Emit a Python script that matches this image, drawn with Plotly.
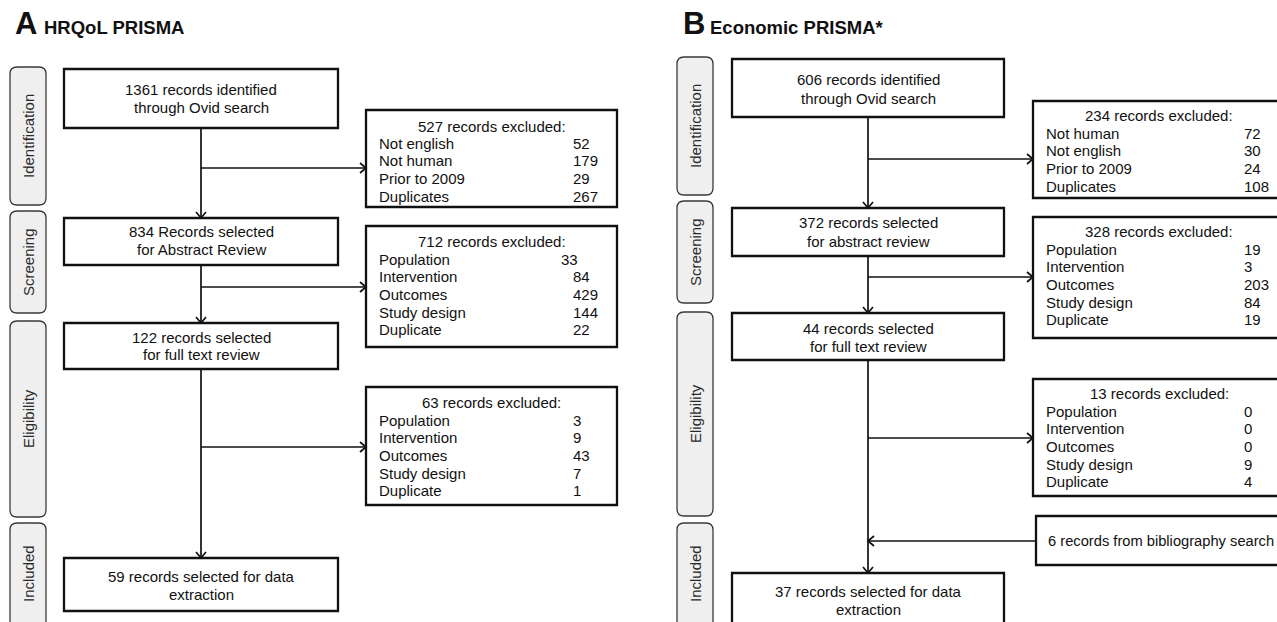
import plotly.graph_objects as go

# ---------------- data ----------------
panel_letters = ["A", "B"]
panel_titles = ["HRQoL PRISMA", "Economic PRISMA*"]
stage_labels = ["Identification", "Screening", "Eligibility", "Included"]

A_main_text = [
    ["1361 records identified", "through Ovid search"],
    ["834 Records selected", "for Abstract Review"],
    ["122 records selected", "for full text review"],
    ["59 records selected for data", "extraction"],
]
A_excl_totals = [527, 712, 63]
A_excl_reasons = [
    ["Not english", "Not human", "Prior to 2009", "Duplicates"],
    ["Population", "Intervention", "Outcomes", "Study design", "Duplicate"],
    ["Population", "Intervention", "Outcomes", "Study design", "Duplicate"],
]
A_excl_counts = [[52, 179, 29, 267], [33, 84, 429, 144, 22], [3, 9, 43, 7, 1]]

B_main_text = [
    ["606 records identified", "through Ovid search"],
    ["372 records selected", "for abstract review"],
    ["44 records selected", "for full text review"],
    ["37 records selected for data", "extraction"],
]
B_excl_totals = [234, 328, 13]
B_excl_reasons = [
    ["Not human", "Not english", "Prior to 2009", "Duplicates"],
    ["Population", "Intervention", "Outcomes", "Study design", "Duplicate"],
    ["Population", "Intervention", "Outcomes", "Study design", "Duplicate"],
]
B_excl_counts = [[72, 30, 24, 108], [19, 3, 203, 84, 19], [0, 0, 0, 9, 4]]
B_bibliography = 6

# ---------------- layout (positions / styles) ----------------
W, H = 1277, 622
FONT = "Liberation Sans, Arial, sans-serif"
TXT = "#111111"
LINE = "#111111"

panels = [
    dict(
        letter_x=13, title_x=42, title_y=27,
        stage_x=(10, 46), stage_y=[(67, 205), (211, 313), (321, 517), (523, 650)],
        main_x=(64, 338), main_y=[(69, 128), (218, 265), (323, 369), (558, 611)],
        main_text_y=[(89, 107), (231, 249), (337, 354), (576, 594)],
        excl_x=(366, 617), excl_y=[(110, 207), (226, 347), (387, 505)],
        excl_header_y=[126, 241, 402], excl_row0=[143, 259, 420], row_h=17.7,
        label_x=377, count_x=[[571] * 4, [559, 571, 571, 571, 571], [571] * 5],
        stem_x=201, branch_y=[168, 287, 447],
        main=A_main_text, totals=A_excl_totals, reasons=A_excl_reasons, counts=A_excl_counts,
    ),
    dict(
        letter_x=681, title_x=708, title_y=27,
        stage_x=(677, 713), stage_y=[(57, 195), (201, 303), (312, 516), (523, 650)],
        main_x=(732, 1004), main_y=[(59, 117), (208, 256), (313, 360), (573, 650)],
        main_text_y=[(79, 98), (222, 241), (328, 346), (591, 609)],
        excl_x=(1033, 1285), excl_y=[(101, 198), (217, 338), (379, 496)],
        excl_header_y=[115, 231, 393], excl_row0=[133, 249, 411], row_h=17.7,
        label_x=1044, count_x=[[1242] * 4, [1242] * 5, [1242] * 5],
        stem_x=868, branch_y=[159, 277, 438],
        main=B_main_text, totals=B_excl_totals, reasons=B_excl_reasons, counts=B_excl_counts,
    ),
]

shapes = []
annotations = []


def rect(x0, x1, y0, y1, width=2.3):
    shapes.append(dict(type="rect", xref="x", yref="y", x0=x0, x1=x1, y0=y0, y1=y1,
                       line=dict(color=LINE, width=width), fillcolor="white", layer="above"))


def rounded(x0, x1, y0, y1, r=7):
    p = (f"M{x0+r},{y0} L{x1-r},{y0} Q{x1},{y0} {x1},{y0+r} L{x1},{y1-r} "
         f"Q{x1},{y1} {x1-r},{y1} L{x0+r},{y1} Q{x0},{y1} {x0},{y1-r} "
         f"L{x0},{y0+r} Q{x0},{y0} {x0+r},{y0} Z")
    shapes.append(dict(type="path", xref="x", yref="y", path=p,
                       line=dict(color="#3a3a3a", width=1.3), fillcolor="#efefef", layer="below"))


def line(x0, y0, x1, y1, width=1.7):
    shapes.append(dict(type="line", xref="x", yref="y", x0=x0, y0=y0, x1=x1, y1=y1,
                       line=dict(color=LINE, width=width), layer="above"))


def head(x, y, direction, s=6, w=5):
    if direction == "down":
        p = f"M{x-w},{y-s} L{x},{y} L{x+w},{y-s}"
    elif direction == "right":
        p = f"M{x-s},{y-w} L{x},{y} L{x-s},{y+w}"
    else:  # left
        p = f"M{x+s},{y-w} L{x},{y} L{x+s},{y+w}"
    shapes.append(dict(type="path", xref="x", yref="y", path=p,
                       line=dict(color=LINE, width=1.7), layer="above"))


def text(x, y, s, size=15, anchor="center", bold=False, angle=0, color=TXT):
    annotations.append(dict(x=x, y=y, xref="x", yref="y", text=f"<b>{s}</b>" if bold else s,
                            showarrow=False, xanchor=anchor, yanchor="middle", textangle=angle,
                            font=dict(family=FONT, size=size, color=color)))


for i, P in enumerate(panels):
    # titles
    text(P["letter_x"], 23, panel_letters[i], size=31, anchor="left", bold=True)
    text(P["title_x"], P["title_y"], panel_titles[i], size=18.5, anchor="left", bold=True)

    # stage labels
    sx0, sx1 = P["stage_x"]
    for lab, (y0, y1) in zip(stage_labels, P["stage_y"]):
        rounded(sx0, sx1, y0, y1)
        yc = (y0 + y1) / 2 if y1 <= 622 else y0 + 51
        text((sx0 + sx1) / 2, yc, lab, size=15, angle=-90, color="#2a2a2a")

    # main boxes
    mx0, mx1 = P["main_x"]
    cx = P["stem_x"]
    for lines, (y0, y1), ty in zip(P["main"], P["main_y"], P["main_text_y"]):
        rect(mx0, mx1, y0, y1)
        for s, yy in zip(lines, ty):
            text((mx0 + mx1) / 2, yy, s)

    # vertical flow with arrows
    for k in range(3):
        ytop = P["main_y"][k][1]
        ybot = P["main_y"][k + 1][0]
        line(cx, ytop, cx, ybot)
        head(cx, ybot, "down")

    # exclusion boxes
    ex0, ex1 = P["excl_x"]
    for k in range(3):
        y0, y1 = P["excl_y"][k]
        rect(ex0, ex1, y0, y1)
        text((ex0 + ex1) / 2, P["excl_header_y"][k], f"{P['totals'][k]} records excluded:")
        for j, (r, c) in enumerate(zip(P["reasons"][k], P["counts"][k])):
            yy = P["excl_row0"][k] + j * P["row_h"]
            text(P["label_x"], yy, r, anchor="left")
            text(P["count_x"][k][j], yy, str(c), anchor="left")
        by = P["branch_y"][k]
        line(cx, by, ex0, by)
        head(ex0, by, "right")

# bibliography box (panel B)
bx0, bx1, by0, by1 = 1036, 1295, 516, 565
rect(bx0, bx1, by0, by1)
text(1046, 541, f"{B_bibliography} records from bibliography search", size=14.7, anchor="left")
line(bx0, 541, panels[1]["stem_x"], 541)
head(panels[1]["stem_x"], 541, "left")

fig = go.Figure()
fig.update_layout(
    width=W, height=H,
    margin=dict(l=0, r=0, t=0, b=0),
    paper_bgcolor="white", plot_bgcolor="white",
    xaxis=dict(range=[0, W], visible=False, fixedrange=True),
    yaxis=dict(range=[H, 0], visible=False, fixedrange=True),
    shapes=shapes, annotations=annotations, showlegend=False,
)
fig.write_html("out.html", config={"displayModeBar": False},
               post_script="document.body.style.margin='0';document.body.style.overflow='hidden';")
